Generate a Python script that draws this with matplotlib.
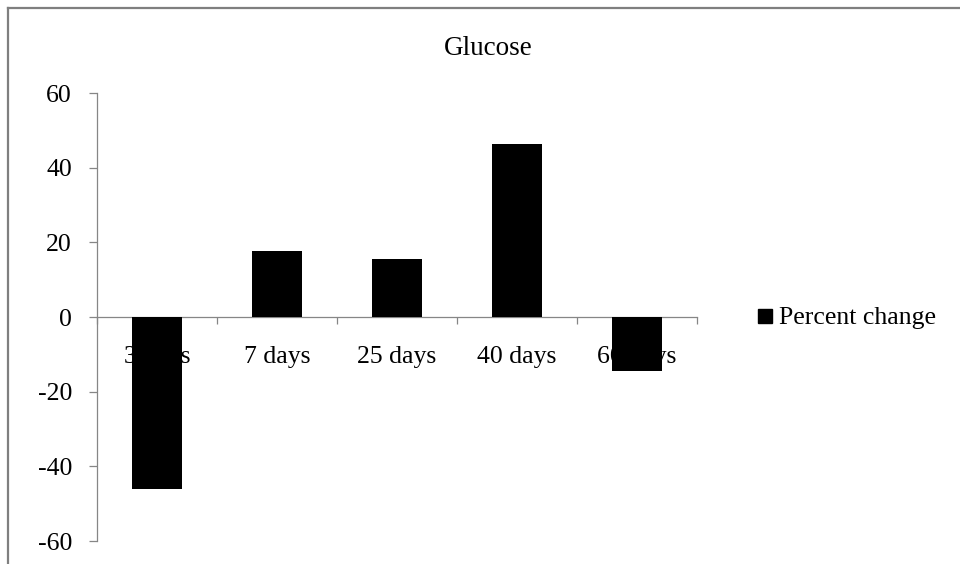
import numpy as np
import matplotlib.pyplot as plt
from matplotlib.lines import Line2D

# Glucose, percent change by time point
categories = ['3 days', '7 days', '25 days', '40 days', '60 days']
percent_change = [-46.0, 17.8, 15.5, 46.3, -14.5]
y_ticks = [-60, -40, -20, 0, 20, 40, 60]

plt.rcParams['font.family'] = ['Liberation Serif', 'DejaVu Serif']
axis_gray = '#868686'

fig = plt.figure(figsize=(9.6, 5.64), dpi=100)
ax = fig.add_axes([97 / 960, 1 - 541 / 564, 600 / 960, 448 / 564])

x = np.arange(len(categories))
ax.bar(x, percent_change, width=0.42, color='black', zorder=3,
       label='Percent change')

ax.set_xlim(-0.5, len(categories) - 0.5)
ax.set_ylim(-60, 60)

# Excel-like axes: category axis crosses at zero, no frame on top/right
for side in ['top', 'right']:
    ax.spines[side].set_visible(False)
ax.spines['bottom'].set_position(('data', 0))
for side in ['left', 'bottom']:
    ax.spines[side].set_color(axis_gray)
    ax.spines[side].set_linewidth(0.9)

ax.set_yticks(y_ticks)
ax.set_yticklabels([str(v) for v in y_ticks])
ax.tick_params(axis='y', direction='out', length=6, width=0.9,
               color=axis_gray, pad=12, labelsize=18.5)

ax.set_xticks(x)
ax.set_xticklabels(categories)
ax.set_xticks(np.arange(len(categories) + 1) - 0.5, minor=True)
ax.tick_params(axis='x', which='major', length=0, pad=21, labelsize=18.5)
ax.tick_params(axis='x', which='minor', direction='out', length=5,
               width=0.9, color=axis_gray)

# legend to the right of the plot area
handle = Line2D([], [], marker='s', color='black', linestyle='none',
                markersize=10)
fig.legend([handle], ['Percent change'], loc='center left',
           bbox_to_anchor=(756 / 960, 1 - 318 / 564), frameon=False,
           fontsize=18.5, handlelength=0.7, handletextpad=0.2,
           borderpad=0, borderaxespad=0)

fig.text(488 / 960, 1 - 55 / 564, 'Glucose', ha='center', va='baseline',
         fontsize=19.5)

# chart area border (top and left edges)
fig.add_artist(Line2D([8 / 960, 8 / 960], [0, 1 - 8 / 564],
                      transform=fig.transFigure, color='#7f7f7f', lw=1.6))
fig.add_artist(Line2D([8 / 960, 1], [1 - 8 / 564, 1 - 8 / 564],
                      transform=fig.transFigure, color='#7f7f7f', lw=1.6))

fig.savefig('out.png', dpi=100)
